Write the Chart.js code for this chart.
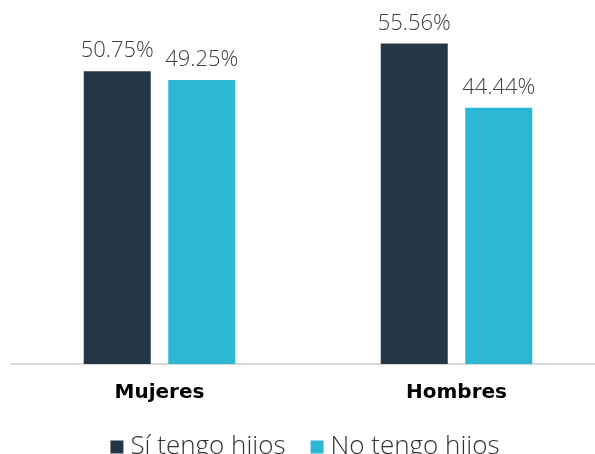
<!DOCTYPE html>
<html>
<head>
<meta charset="utf-8">
<script src="https://cdn.jsdelivr.net/npm/chart.js@4.4.0/dist/chart.umd.min.js"></script>
<style>
  html, body { margin: 0; padding: 0; background: #ffffff; overflow: hidden; }
  #wrap { width: 595px; height: 454px; overflow: hidden; position: relative; }
  #grafico { position: absolute; left: 0; top: 0; }
</style>
</head>
<body>
<div id="wrap"><canvas id="grafico" width="610" height="470"></canvas></div>
<script>
// datos
const categorias = ['Mujeres', 'Hombres'];
const series = ['Sí tengo hijos', 'No tengo hijos'];
const siTengo = [50.75, 55.56];
const noTengo = [49.25, 44.44];
const colores = ['#253746', '#2cb8d4'];

// etiquetas de valor encima de cada barra
const etiquetasValor = {
  id: 'etiquetasValor',
  afterDatasetsDraw(chart) {
    const ctx = chart.ctx;
    ctx.save();
    ctx.font = '300 22px "Open Sans"';
    ctx.fillStyle = '#404040';
    ctx.textAlign = 'center';
    ctx.textBaseline = 'alphabetic';
    chart.data.datasets.forEach((ds, i) => {
      chart.getDatasetMeta(i).data.forEach((bar, j) => {
        ctx.fillText(ds.data[j].toFixed(2) + '%', bar.x, bar.y - 14);
      });
    });
    ctx.restore();
  }
};

new Chart(document.getElementById('grafico'), {
  type: 'bar',
  data: {
    labels: categorias,
    datasets: [
      { label: series[0], data: siTengo, backgroundColor: colores[0] },
      { label: series[1], data: noTengo, backgroundColor: colores[1] }
    ]
  },
  options: {
    responsive: false,
    animation: false,
    categoryPercentage: 0.569,
    barPercentage: 0.793,
    layout: { padding: { left: 11, right: 5, top: 18, bottom: 0 } },
    scales: {
      y: { display: false, min: 0, max: 60 },
      x: {
        // sin lineas de grilla; tickLength solo separa las etiquetas del eje
        grid: { display: false, tickLength: 19 },
        border: { display: true, color: '#d9d9d9', width: 2 },
        ticks: {
          color: '#000000',
          padding: 0,
          font: { family: '"DejaVu Sans"', size: 20, weight: 'bold', lineHeight: 1 }
        }
      }
    },
    plugins: {
      tooltip: { enabled: false },
      legend: {
        position: 'bottom',
        labels: {
          usePointStyle: true,
          pointStyle: 'rect',
          boxWidth: 1,
          boxHeight: 13,
          padding: 31,
          color: '#333333',
          font: { family: '"Open Sans"', size: 26, weight: '300' }
        }
      }
    }
  },
  plugins: [etiquetasValor]
});
</script>
</body>
</html>
